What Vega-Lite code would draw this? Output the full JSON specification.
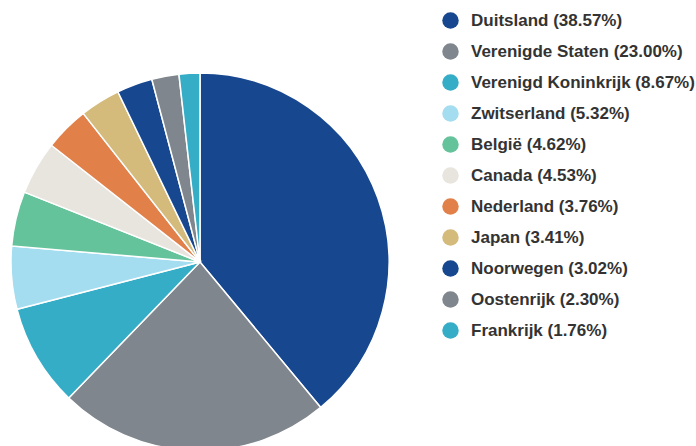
{
  "$schema": "https://vega.github.io/schema/vega-lite/v6.json",
  "autosize": {"type": "none"},
  "padding": {"left": 0, "top": 0, "right": 296, "bottom": 0},
  "width": 400,
  "height": 524,
  "background": "white",
  "view": {"stroke": null},
  "data": {
    "values": [
      {"land": "Duitsland (38.57%)", "pct": 38.57, "rank": 1},
      {"land": "Verenigde Staten (23.00%)", "pct": 23.00, "rank": 2},
      {"land": "Verenigd Koninkrijk (8.67%)", "pct": 8.67, "rank": 3},
      {"land": "Zwitserland (5.32%)", "pct": 5.32, "rank": 4},
      {"land": "België (4.62%)", "pct": 4.62, "rank": 5},
      {"land": "Canada (4.53%)", "pct": 4.53, "rank": 6},
      {"land": "Nederland (3.76%)", "pct": 3.76, "rank": 7},
      {"land": "Japan (3.41%)", "pct": 3.41, "rank": 8},
      {"land": "Noorwegen (3.02%)", "pct": 3.02, "rank": 9},
      {"land": "Oostenrijk (2.30%)", "pct": 2.30, "rank": 10},
      {"land": "Frankrijk (1.76%)", "pct": 1.76, "rank": 11}
    ]
  },
  "mark": {"type": "arc", "outerRadius": 189, "stroke": "white", "strokeWidth": 1.5},
  "encoding": {
    "theta": {"field": "pct", "type": "quantitative", "stack": true},
    "order": {"field": "rank", "type": "quantitative", "sort": "ascending"},
    "color": {
      "field": "land",
      "type": "nominal",
      "sort": null,
      "scale": {
        "domain": ["Duitsland (38.57%)", "Verenigde Staten (23.00%)", "Verenigd Koninkrijk (8.67%)", "Zwitserland (5.32%)", "België (4.62%)", "Canada (4.53%)", "Nederland (3.76%)", "Japan (3.41%)", "Noorwegen (3.02%)", "Oostenrijk (2.30%)", "Frankrijk (1.76%)"],
        "range": ["#17488f", "#7f868d", "#35adc6", "#a4dcf0", "#65c39c", "#e8e4de", "#e2804a", "#d4bb7c", "#17488f", "#7f868d", "#35adc6"]
      },
      "legend": {
        "title": null,
        "orient": "none",
        "legendX": 442,
        "legendY": 12,
        "symbolType": "circle",
        "symbolSize": 270,
        "symbolStrokeWidth": 0,
        "labelFont": "Liberation Sans",
        "labelFontWeight": "bold",
        "labelFontSize": 17,
        "labelColor": "#333333",
        "labelLimit": 300,
        "rowPadding": 13,
        "labelOffset": 12
      }
    }
  }
}
